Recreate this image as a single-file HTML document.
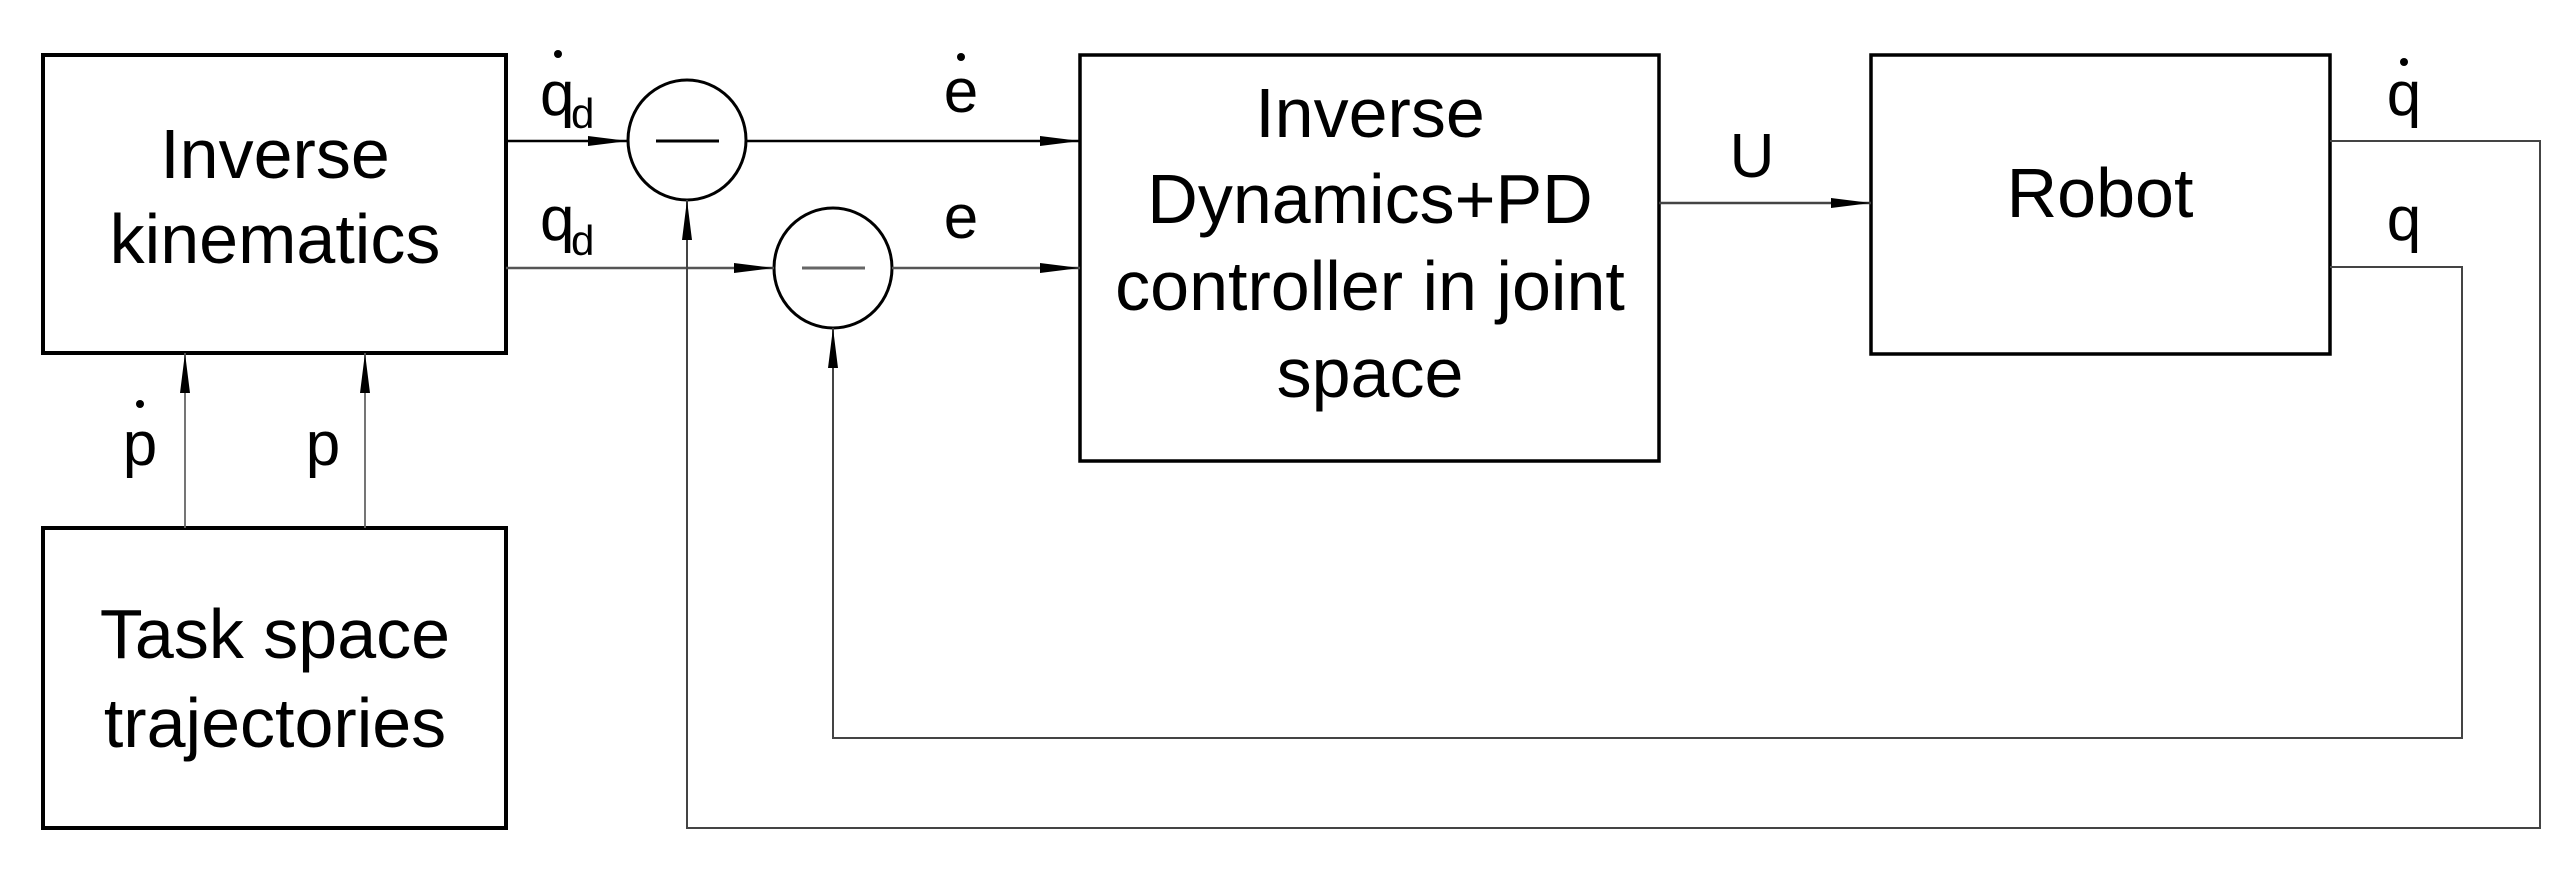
<!DOCTYPE html>
<html><head><meta charset="utf-8"><style>html,body{margin:0;padding:0;background:#fff}svg{display:block}</style></head>
<body>
<svg width="2573" height="879" viewBox="0 0 2573 879" xmlns="http://www.w3.org/2000/svg" font-family="Liberation Sans, Arial, sans-serif">
<defs>
<marker id="a" markerWidth="40" markerHeight="12" refX="40" refY="6" orient="auto" markerUnits="userSpaceOnUse">
<path d="M0,1 L40,6 L0,11 Z" fill="#000"/>
</marker>
</defs>
<g fill="none" stroke="#000">
<rect x="43" y="55" width="463" height="298" stroke-width="4"/>
<rect x="43" y="528" width="463" height="300" stroke-width="4"/>
<rect x="1080" y="55" width="579" height="406" stroke-width="3.5"/>
<rect x="1871" y="55" width="459" height="299" stroke-width="3.5"/>
<ellipse cx="687" cy="140" rx="59" ry="60" stroke-width="3"/>
<ellipse cx="833" cy="268" rx="59" ry="60" stroke-width="3"/>
<line x1="656" y1="141" x2="719" y2="141" stroke-width="3"/>
<line x1="802" y1="268" x2="865" y2="268" stroke="#666" stroke-width="3"/>
<line x1="506" y1="141" x2="628" y2="141" stroke-width="2.5" marker-end="url(#a)"/>
<line x1="746" y1="141" x2="1080" y2="141" stroke-width="2.5" marker-end="url(#a)"/>
<line x1="506" y1="268" x2="774" y2="268" stroke="#555" stroke-width="2.5" marker-end="url(#a)"/>
<line x1="892" y1="268" x2="1080" y2="268" stroke="#555" stroke-width="2.5" marker-end="url(#a)"/>
<line x1="1659" y1="203" x2="1871" y2="203" stroke="#444" stroke-width="2.5" marker-end="url(#a)"/>
<line x1="185" y1="528" x2="185" y2="353" stroke="#666" stroke-width="1.8" marker-end="url(#a)"/>
<line x1="365" y1="528" x2="365" y2="353" stroke="#666" stroke-width="1.8" marker-end="url(#a)"/>
<polyline points="2330,141 2540,141 2540,828 687,828 687,200" stroke="#444" stroke-width="2" marker-end="url(#a)"/>
<polyline points="2330,267 2462,267 2462,738 833,738 833,328" stroke="#444" stroke-width="2" marker-end="url(#a)"/>
</g>
<g font-size="70" text-anchor="middle" fill="#000">
<text x="275" y="178">Inverse</text>
<text x="275" y="263">kinematics</text>
<text x="275" y="658">Task space</text>
<text x="275" y="747">trajectories</text>
<text x="1370" y="137">Inverse</text>
<text x="1370" y="223">Dynamics+PD</text>
<text x="1370" y="310">controller in joint</text>
<text x="1370" y="397">space</text>
<text x="2100" y="217">Robot</text>
</g>
<g font-size="62" fill="#000">
<text x="540" y="115">q</text><text x="571" y="128" font-size="42">d</text>
<text x="540" y="240">q</text><text x="571" y="255" font-size="42">d</text>
<text x="961" y="112" text-anchor="middle">e</text>
<text x="961" y="238" text-anchor="middle">e</text>
<text x="1752" y="177" text-anchor="middle">U</text>
<text x="2404" y="115" text-anchor="middle">q</text>
<text x="2404" y="240" text-anchor="middle">q</text>
<text x="140" y="465" text-anchor="middle">p</text>
<text x="323" y="465" text-anchor="middle">p</text>
<circle cx="558" cy="54" r="4"/>
<circle cx="961" cy="57" r="4"/>
<circle cx="2404" cy="62" r="4"/>
<circle cx="140" cy="404" r="4"/>
</g>
</svg>
</body></html>
